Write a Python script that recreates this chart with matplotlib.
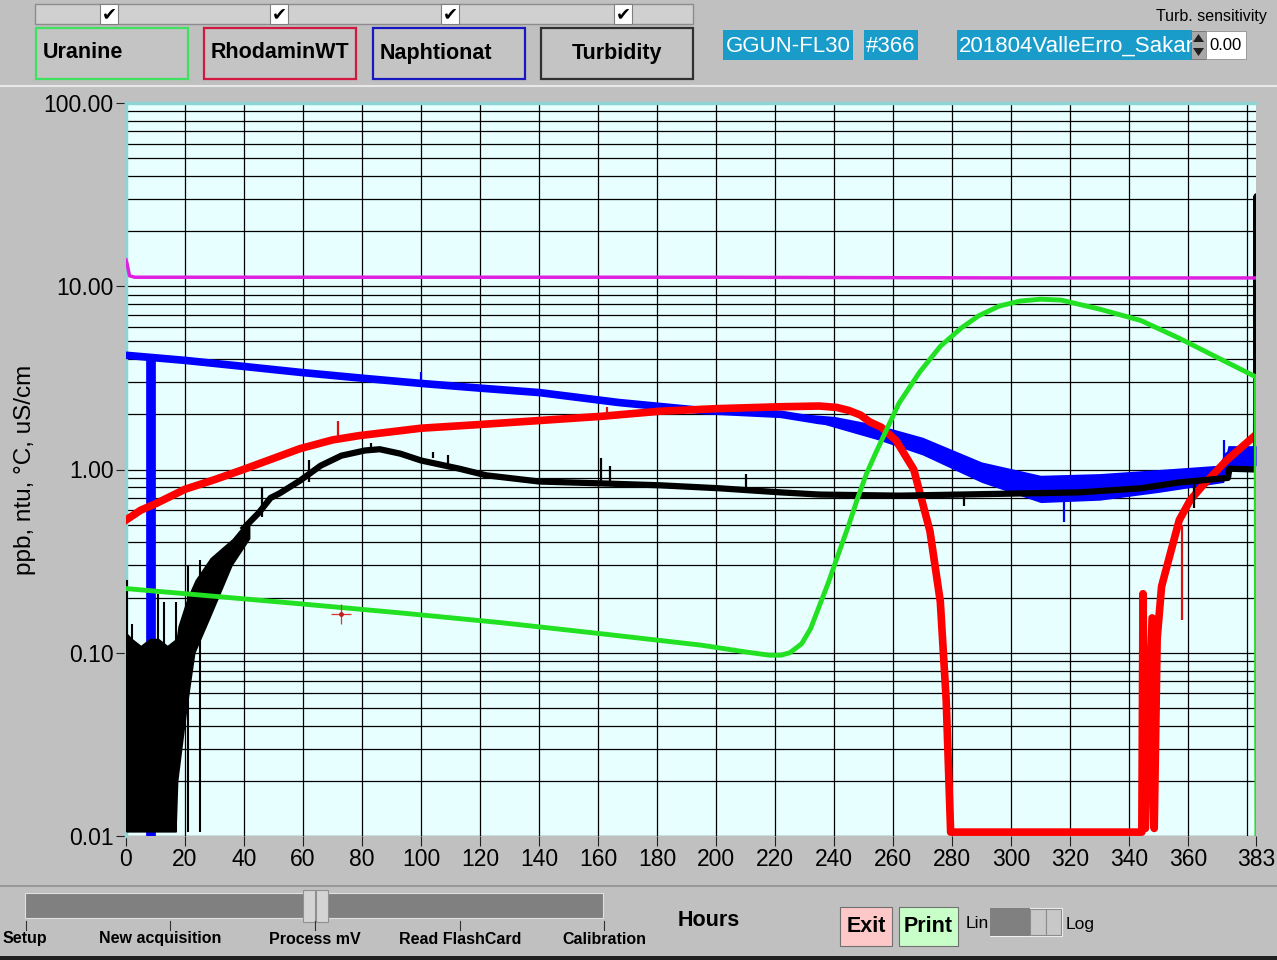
import matplotlib
matplotlib.use("Agg")
import matplotlib.pyplot as plt
from matplotlib.patches import Rectangle, Polygon
from matplotlib.ticker import LogLocator, NullFormatter

plt.rcParams['font.family'] = ['Liberation Sans', 'DejaVu Sans']

# ---- data (hours, ppb / ntu / degC) ----
temp_h = [0, 0.3, 1.2, 3, 100, 200, 300, 383]
temp_v = [13.9, 13.4, 11.4, 11.2, 11.2, 11.2, 11.1, 11.1]

ura_h = [0, 20, 59, 93, 127, 161, 195, 210, 218, 222, 225, 229, 232, 235, 238, 241, 245,
         248, 251, 254, 257, 262, 269, 276, 283, 289, 296, 303, 310, 317, 330, 344, 357,
         371, 383, 383.3]
ura_v = [0.224, 0.21, 0.185, 0.165, 0.146, 0.127, 0.11, 0.101, 0.097, 0.097, 0.1, 0.112,
         0.135, 0.18, 0.24, 0.33, 0.5, 0.7, 0.95, 1.22, 1.55, 2.3, 3.4, 4.7, 5.9, 6.9, 7.8,
         8.3, 8.5, 8.4, 7.5, 6.5, 5.2, 4.0, 3.2, 0.01]

nap_h = [0, 20, 40, 59, 80, 100, 120, 140, 167, 195, 222, 235, 242, 256, 269, 286,
         303, 320, 337, 354, 371, 373.5, 383]
nap_v = [4.2, 3.94, 3.65, 3.39, 3.15, 2.95, 2.78, 2.63, 2.32, 2.1, 2.0, 1.85, 1.8, 1.59,
         1.39, 1.09, 0.8, 0.78, 0.8, 0.9, 0.96, 1.19, 1.2]
nap_band_h = [228, 240, 255, 270, 290, 310, 330, 350, 372, 373.5, 383]
nap_band_hi = [2.02, 1.95, 1.75, 1.5, 1.1, 0.93, 0.95, 1.0, 1.06, 1.35, 1.35]
nap_band_lo = [1.94, 1.7, 1.45, 1.2, 0.85, 0.66, 0.68, 0.75, 0.85, 1.0, 1.05]
nap_spike_h = 8.6
nap_spike_v = [0.0098, 4.1]
nap_tick_h = [100, 262, 318, 372]
nap_tick_lo = [2.9, 1.4, 0.7, 0.95]
nap_tick_hi = [3.4, 1.6, 0.52, 1.45]

rho_h = [0, 5, 10, 20, 30, 39, 50, 59, 70, 79, 100, 120, 140, 161, 181, 201, 222, 235,
         241, 245, 249, 252, 256, 261, 267, 272.5, 276, 278, 279.5, 344.3, 344.7, 345.5,
         347.8, 348.5, 349.5, 351, 354, 357, 360.7, 365, 373, 383]
rho_v = [0.53, 0.6, 0.65, 0.78, 0.88, 0.99, 1.15, 1.3, 1.45, 1.53, 1.68, 1.76, 1.85,
         1.95, 2.08, 2.15, 2.2, 2.22, 2.18, 2.1, 1.98, 1.82, 1.7, 1.44, 1.0, 0.46, 0.19,
         0.055, 0.0105, 0.0105, 0.21, 0.011, 0.155, 0.011, 0.12, 0.23, 0.35, 0.53, 0.68,
         0.82, 1.12, 1.55]
rho_tick_h = [72, 163, 358]
rho_tick_lo = [1.45, 1.95, 0.5]
rho_tick_hi = [1.85, 2.2, 0.15]

tur_h = [40, 45, 49, 52, 59, 66, 73, 81, 86, 93, 100, 113, 122, 140, 161, 181, 201,
         222, 235, 262, 283, 303, 323, 344, 357, 373.5, 374, 383, 383.2, 383.4]
tur_v = [0.48, 0.58, 0.7, 0.74, 0.87, 1.05, 1.19, 1.27, 1.29, 1.22, 1.12, 1.01, 0.93,
         0.86, 0.84, 0.82, 0.79, 0.75, 0.73, 0.72, 0.73, 0.74, 0.75, 0.79, 0.85, 0.9,
         1.01, 1.0, 31, 1.0]
tur_band_h = [0, 2, 5, 8, 11, 14, 17, 17.6, 20.7, 23.4, 28.5, 36, 42]
tur_band_hi = [0.13, 0.12, 0.11, 0.12, 0.12, 0.11, 0.12, 0.14, 0.2, 0.25, 0.33, 0.42, 0.55]
tur_band_lo = [0.0105, 0.0105, 0.0105, 0.0105, 0.0105, 0.0105, 0.0105, 0.02, 0.05,
               0.1, 0.155, 0.3, 0.42]
tur_spike_h = [0.3, 2, 11, 13, 17, 21, 25]
tur_spike_v = [0.25, 0.144, 0.21, 0.19, 0.19, 0.3, 0.32]
tur_tick_h = [46, 62, 83, 104, 109, 161, 164, 210, 284, 362]
tur_tick_lo = [0.55, 0.85, 1.27, 1.15, 1.05, 0.85, 0.85, 0.78, 0.73, 0.85]
tur_tick_hi = [0.79, 1.12, 1.4, 1.24, 1.2, 1.16, 1.05, 0.95, 0.63, 0.62]

cursor_h, cursor_v = 73, 0.163

x_ticks = [0, 20, 40, 60, 80, 100, 120, 140, 160, 180, 200, 220, 240, 260, 280, 300,
           320, 340, 360, 383]
x_grid = list(range(0, 381, 20))
y_ticks = [0.01, 0.1, 1, 10, 100]
y_labels = ['0.01', '0.10', '1.00', '10.00', '100.00']

channels = ['Uranine', 'RhodaminWT', 'Naphtionat', 'Turbidity']
slider_steps = ['Setup', 'New acquisition', 'Process mV', 'Read FlashCard', 'Calibration']

# ---- figure / GUI frame ----
W, H = 1277, 960
fig = plt.figure(figsize=(W / 100, H / 100), dpi=100)
fig.patch.set_facecolor('#c0c0c0')


def fx(x):
    return x / W


def fy(y):
    return 1 - y / H


def rect(x0, y0, x1, y1, fc, ec='none', lw=0, z=1):
    r = Rectangle((fx(x0), fy(y1)), (x1 - x0) / W, (y1 - y0) / H,
                  transform=fig.transFigure, fc=fc, ec=ec, lw=lw, zorder=z)
    fig.add_artist(r)
    return r


def tri(pts, fc, z=4):
    fig.add_artist(Polygon([(fx(a), fy(b)) for a, b in pts], closed=True,
                           transform=fig.transFigure, fc=fc, ec='none', zorder=z))


def label(x, y, s, size, **kw):
    return fig.text(fx(x), fy(y), s, fontsize=size, va='center', **kw)


# top check bar
rect(35, 4, 693, 24, '#d0d0d0', '#8c8c8c', 1)
for cx in [100, 270, 441, 614]:
    rect(cx, 4, cx + 18, 24, 'white', '#808080', 0.8, z=2)
    label(cx + 9, 14, '\u2714', 13, ha='center', family='DejaVu Sans', zorder=3)

# channel buttons
btn_x = [36, 204, 373, 541]
btn_ec = ['#40e060', '#d01840', '#1818c0', '#303030']
btn_align = ['left', 'center', 'left', 'center']
for bx, name, ec, al in zip(btn_x, channels, btn_ec, btn_align):
    rect(bx, 28, bx + 152, 79, '#c4c4c4', ec, 1.6, z=2)
    if al == 'left':
        label(bx + 7, 53, name, 15.5, ha='left', weight='bold', zorder=3)
    else:
        label(bx + 76, 53, name, 15.5, ha='center', weight='bold', zorder=3)

# instrument info fields
cyan = '#1a9ccb'
rect(723, 30, 853, 60, cyan, z=2)
label(788, 46, 'GGUN-FL30', 16, ha='center', color='white', zorder=3)
rect(864, 30, 918, 60, cyan, z=2)
label(891, 46, '#366', 16, ha='center', color='white', zorder=3)
fbox = rect(957, 30, 1192, 60, cyan, z=2)
t = label(959, 46, '201804ValleErro_Sakana', 16, ha='left', color='white', zorder=3)
t.set_clip_path(fbox)
rect(1191, 31, 1206, 59, '#a8a8a8', '#707070', 0.6, z=3)
tri([(1193, 42), (1204, 42), (1198.5, 34)], '#202020')
tri([(1193, 48), (1204, 48), (1198.5, 56)], '#202020')
rect(1206, 31, 1246, 59, 'white', '#909090', 0.6, z=3)
label(1209, 46, '0.00', 12, ha='left', zorder=4)
label(1267, 17, 'Turb. sensitivity', 11.5, ha='right')

# separators
fig.add_artist(plt.Line2D([0, 1], [fy(86), fy(86)], transform=fig.transFigure,
                          color='#e8e8e8', lw=1.5))
fig.add_artist(plt.Line2D([0, 1], [fy(886), fy(886)], transform=fig.transFigure,
                          color='#909090', lw=1.2))
rect(0, 956, W, 960, '#202020')

# bottom slider
rect(25, 893, 603, 918, '#808080', '#e0e0e0', 0.8)
rect(303, 890, 315, 922, '#d4d4d4', '#909090', 0.8, z=2)
rect(316, 890, 328, 922, '#d4d4d4', '#909090', 0.8, z=2)
tick_px = [26, 170, 315, 460, 604]
for tx in tick_px:
    fig.add_artist(plt.Line2D([fx(tx), fx(tx)], [fy(921), fy(930)],
                              transform=fig.transFigure, color='#303030', lw=0.8))
label(3, 939, slider_steps[0], 11.5, ha='left', weight='bold')
for tx, s in zip(tick_px[1:], slider_steps[1:]):
    label(tx - 10 if s == 'New acquisition' else tx, 939, s, 11.5, ha='center', weight='bold')

label(709, 921, 'Hours', 15.5, ha='center', weight='bold')
rect(840, 907, 892, 946, '#ffc8c8', '#707070', 0.8)
label(866, 927, 'Exit', 15.5, ha='center', weight='bold')
rect(899, 907, 958, 946, '#c8ffc8', '#707070', 0.8)
label(928, 927, 'Print', 15.5, ha='center', weight='bold')
label(966, 924, 'Lin', 12.5, ha='left')
rect(990, 908, 1062, 936, '#c8c8c8', '#f0f0f0', 0.8)
rect(990, 908, 1030, 936, '#808080')
rect(1030, 909, 1046, 935, '#c8c8c8', '#8c8c8c', 0.8, z=2)
rect(1046, 909, 1061, 935, '#c8c8c8', '#8c8c8c', 0.8, z=2)
label(1066, 924, 'Log', 12.5, ha='left')

# ---- chart ----
ax = fig.add_axes([fx(126), fy(836), (1256 - 126) / W, (836 - 103) / H])
ax.set_facecolor('#e8ffff')
ax.set_yscale('log')
ax.set_xlim(0, 383)
ax.set_ylim(0.01, 100)

for s in ['right', 'bottom']:
    ax.spines[s].set_visible(False)
for s in ['left', 'top']:
    ax.spines[s].set_color('#8fd3d3')
    ax.spines[s].set_linewidth(2.5)

ax.yaxis.set_minor_locator(LogLocator(base=10, subs=range(2, 10)))
ax.yaxis.set_minor_formatter(NullFormatter())
ax.set_yticks(y_ticks, labels=y_labels)
ax.set_xticks(x_ticks, labels=[str(v) for v in x_ticks])
ax.tick_params(axis='both', which='major', direction='out', length=7, width=0.8,
               color='#202020', labelsize=16.5, pad=2)
ax.tick_params(axis='y', which='minor', length=0)
ax.grid(True, axis='y', which='both', color='black', lw=0.9, zorder=1)
for gx in x_grid[1:]:
    ax.axvline(gx, color='black', lw=0.9, zorder=1)

ax.set_ylabel('ppb, ntu, \u00b0C, uS/cm', fontsize=17.5)
ax.yaxis.set_label_coords(-0.080, 0.5)

# traces
ax.fill_between(nap_band_h, nap_band_lo, nap_band_hi, color='#0000ff', lw=0, zorder=3)
ax.plot(nap_h, nap_v, color='#0000ff', lw=5.5, zorder=3)
ax.plot([nap_spike_h, nap_spike_h], nap_spike_v, color='#0000ff', lw=7, zorder=3,
        solid_capstyle='butt')
ax.vlines(nap_tick_h, nap_tick_lo, nap_tick_hi, color='#0000ff', lw=1.6, zorder=3)

ax.plot(rho_h, rho_v, color='#ff0000', lw=5.5, zorder=4)
ax.vlines(rho_tick_h, rho_tick_lo, rho_tick_hi, color='#e01010', lw=1.6, zorder=4)

ax.fill_between(tur_band_h, tur_band_lo, tur_band_hi, color='black', lw=0, zorder=5)
ax.vlines(tur_spike_h, 0.0105, tur_spike_v, color='black', lw=1.5, zorder=5)
ax.plot(tur_h, tur_v, color='black', lw=4.5, zorder=5)
ax.vlines(tur_tick_h, tur_tick_lo, tur_tick_hi, color='black', lw=1.6, zorder=5)

ax.plot(ura_h, ura_v, color='#22e022', lw=3.5, zorder=6)
ax.plot(temp_h, temp_v, color='#e020e0', lw=2.5, zorder=6)

ax.plot([cursor_h], [cursor_v], marker='+', ms=14, mew=0.9, color='#e03030', zorder=7)
ax.plot([cursor_h], [cursor_v], marker='o', ms=2.5, color='#c02020', zorder=7)

fig.savefig('out.png', dpi=100, facecolor=fig.get_facecolor())
